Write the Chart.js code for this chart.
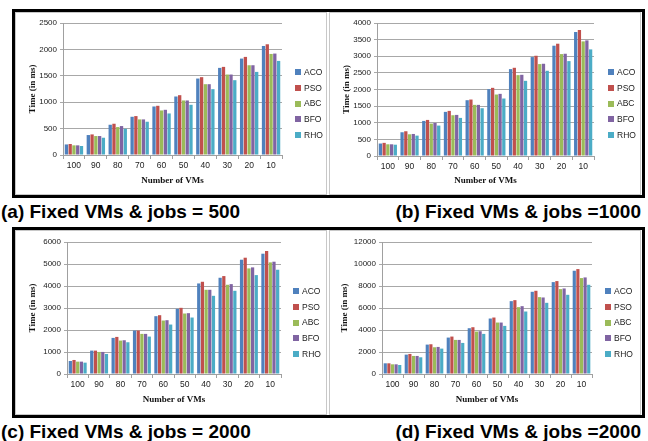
<!DOCTYPE html>
<html><head><meta charset="utf-8">
<script src="https://cdn.jsdelivr.net/npm/chart.js@4"></script>
<style>
body{margin:0;background:#fff;width:648px;height:441px;position:relative;overflow:hidden;font-family:"Liberation Sans",Arial,sans-serif;}
.frame{position:absolute;border:3px solid #000;box-sizing:border-box;}
.panel{position:absolute;border:1px solid #c8c8c8;box-sizing:border-box;background:#fff;}
canvas.c{position:absolute;}
.cap{position:absolute;font-weight:bold;font-size:19px;color:#000;white-space:nowrap;line-height:22px;}
</style></head><body>
<div class="frame" style="left:12px;top:9px;width:633px;height:189px"></div>
<div class="panel" style="left:15px;top:12px;width:312px;height:183px"></div>
<div class="panel" style="left:329px;top:12px;width:312px;height:183px"></div>
<div class="cap" style="left:1px;top:201px">(a) Fixed VMs &amp; jobs = 500</div>
<div class="cap" style="right:7px;top:201px">(b) Fixed VMs &amp; jobs =1000</div>
<div class="frame" style="left:12px;top:227px;width:633px;height:191px"></div>
<div class="panel" style="left:15px;top:230px;width:312px;height:185px"></div>
<div class="panel" style="left:329px;top:230px;width:312px;height:185px"></div>
<div class="cap" style="left:1px;top:421px">(c) Fixed VMs &amp; jobs = 2000</div>
<div class="cap" style="right:7px;top:421px">(d) Fixed VMs &amp; jobs =2000</div>
<canvas class="c" id="ca" width="310" height="181" style="left:16px;top:13px"></canvas>
<canvas class="c" id="cb" width="310" height="181" style="left:330px;top:13px"></canvas>
<canvas class="c" id="cc" width="310" height="183" style="left:16px;top:231px"></canvas>
<canvas class="c" id="cd" width="310" height="183" style="left:330px;top:231px"></canvas>
<script>
const categories = ['100','90','80','70','60','50','40','30','20','10'];
const seriesNames = ['ACO','PSO','ABC','BFO','RHO'];
const seriesColors = ['#4F81BD','#C0504D','#9BBB59','#8064A2','#4BACC6'];

// (a) jobs = 500
const acoA = [200,378,573,724,919,1108,1448,1650,1826,2065];
const psoA = [208,390,592,737,932,1133,1474,1669,1858,2097];
const abcA = [183,359,529,674,844,1033,1341,1524,1700,1914];
const bfoA = [183,359,548,674,856,1033,1341,1524,1700,1921];
const rhoA = [170,327,497,630,787,951,1247,1417,1574,1782];
// (b) jobs = 1000
const acoB = [375,714,1055,1327,1678,2010,2613,2975,3317,3729];
const psoB = [395,744,1085,1357,1698,2050,2653,3015,3377,3789];
const abcB = [352,653,975,1226,1538,1849,2432,2764,3065,3447];
const bfoB = [352,663,995,1236,1538,1869,2442,2774,3075,3477];
const rhoB = [340,613,915,1146,1437,1729,2261,2563,2854,3206];
// (c) jobs = 2000
const acoC = [592,1063,1641,1975,2628,2962,4116,4375,5195,5468];
const psoC = [638,1063,1686,1975,2673,3008,4192,4451,5286,5590];
const abcC = [562,1003,1519,1823,2430,2749,3828,4056,4800,5073];
const bfoC = [562,1003,1534,1823,2446,2765,3828,4086,4846,5104];
const rhoC = [516,911,1443,1701,2248,2567,3554,3782,4496,4739];
// (d) jobs = 2000
const acoD = [972,1762,2673,3311,4162,5043,6623,7473,8354,9387];
const psoD = [972,1823,2704,3403,4253,5134,6714,7565,8446,9539];
const abcD = [881,1641,2430,3099,3858,4678,6076,6987,7716,8719];
const bfoD = [881,1641,2461,3099,3889,4678,6167,6957,7777,8780];
const rhoD = [820,1519,2309,2825,3646,4375,5681,6471,7200,8111];

const yTitle = 'Time (in ms)';
const xTitle = 'Number of VMs';

const sideLegend = {
  id: 'sideLegend',
  afterDraw(chart, args, opts) {
    const ctx = chart.ctx;
    const ds = chart.data.datasets;
    const n = ds.length;
    ctx.save();
    ctx.font = '8.5px "Liberation Sans", Arial, sans-serif';
    ctx.textBaseline = 'middle';
    ctx.textAlign = 'left';
    ds.forEach((d, i) => {
      const y = opts.cy + (i - (n - 1) / 2) * opts.sp;
      ctx.fillStyle = d.backgroundColor;
      ctx.fillRect(opts.x, Math.round(y - 3), 6, 6);
      ctx.fillStyle = '#222';
      ctx.fillText(d.label, opts.x + 9, y + 0.5);
    });
    ctx.restore();
  }
};

function makeChart(id, series, yMax, step, g) {
  const canvas = document.getElementById(id);
  const W = canvas.width, H = canvas.height;
  return new Chart(canvas, {
    type: 'bar',
    data: {
      labels: categories,
      datasets: series.map((vals, i) => ({
        label: seriesNames[i],
        data: vals,
        backgroundColor: seriesColors[i],
        borderWidth: 0,
        barPercentage: 0.88,
        categoryPercentage: 0.86
      }))
    },
    options: {
      responsive: false,
      animation: false,
      devicePixelRatio: 1,
      layout: { padding: { left: 0, top: g.top, right: W - g.right, bottom: 0 } },
      plugins: {
        legend: { display: false },
        tooltip: { enabled: false },
        sideLegend: { x: g.legX, cy: H / 2, sp: 15.8 }
      },
      scales: {
        x: {
          afterFit(s) { s.height = H - g.bottom; },
          grid: { offset: true, drawOnChartArea: false, drawTicks: true, tickLength: 4, color: '#a0a0a0' },
          border: { display: true, color: '#a0a0a0' },
          ticks: { padding: 2, color: '#222', font: { family: '"Liberation Sans", Arial, sans-serif', size: 8.5 }, maxRotation: 0 },
          title: { display: true, text: xTitle, color: '#111', padding: { top: 0, bottom: g.xtPad }, font: { family: '"Liberation Serif", "Times New Roman", serif', size: 9, weight: 'bold' } }
        },
        y: {
          min: 0, max: yMax,
          afterFit(s) { s.width = g.left; },
          grid: { color: '#a8a8a8', tickLength: 3 },
          border: { display: true, color: '#a0a0a0' },
          ticks: { stepSize: step, padding: 3, color: '#222', font: { family: '"Liberation Sans", Arial, sans-serif', size: 8 }, callback: v => String(v) },
          title: { display: true, text: yTitle, color: '#111', padding: { top: g.ytPad, bottom: 0 }, font: { family: '"Liberation Serif", "Times New Roman", serif', size: 9, weight: 'bold' } }
        }
      }
    },
    plugins: [sideLegend]
  });
}

makeChart('ca', [acoA, psoA, abcA, bfoA, rhoA], 2500, 500, { left: 47, right: 266, top: 10, bottom: 142, legX: 279, xtPad: 8, ytPad: 11 });
makeChart('cb', [acoB, psoB, abcB, bfoB, rhoB], 4000, 500, { left: 47, right: 264, top: 10, bottom: 143, legX: 278, xtPad: 8, ytPad: 11 });
makeChart('cc', [acoC, psoC, abcC, bfoC, rhoC], 6000, 1000, { left: 51, right: 265, top: 11, bottom: 143, legX: 277, xtPad: 9, ytPad: 11 });
makeChart('cd', [acoD, psoD, abcD, bfoD, rhoD], 12000, 2000, { left: 52, right: 262, top: 11, bottom: 143, legX: 275, xtPad: 9, ytPad: 9 });
</script>
</body></html>
